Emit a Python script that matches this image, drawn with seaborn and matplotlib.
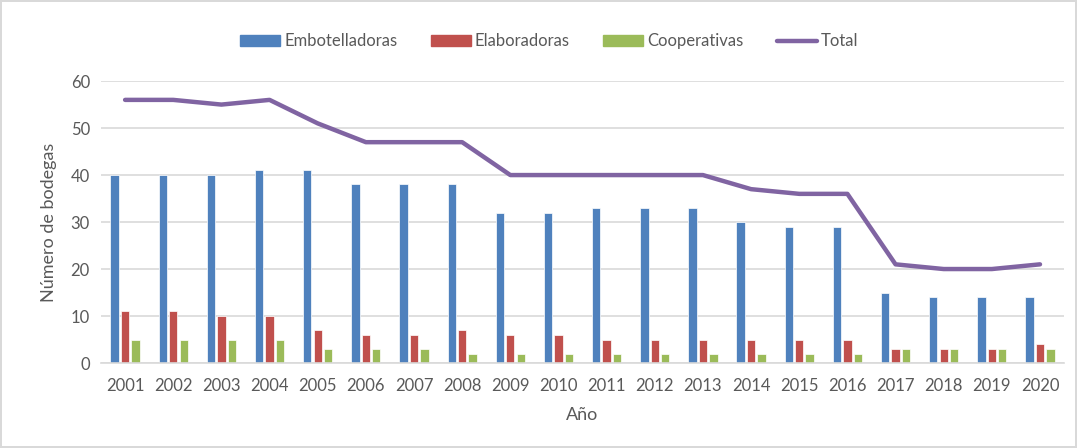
import pandas as pd
import numpy as np
import matplotlib.pyplot as plt
import seaborn as sns

# datos
years = [str(y) for y in range(2001, 2021)]
embotelladoras = [40, 40, 40, 41, 41, 38, 38, 38, 32, 32, 33, 33, 33, 30, 29, 29, 15, 14, 14, 14]
elaboradoras = [11, 11, 10, 10, 7, 6, 6, 7, 6, 6, 5, 5, 5, 5, 5, 5, 3, 3, 3, 4]
cooperativas = [5, 5, 5, 5, 3, 3, 3, 2, 2, 2, 2, 2, 2, 2, 2, 2, 3, 3, 3, 3]
total = [56, 56, 55, 56, 51, 47, 47, 47, 40, 40, 40, 40, 40, 37, 36, 36, 21, 20, 20, 21]

series_names = ['Embotelladoras', 'Elaboradoras', 'Cooperativas']
colors = ['#4F81BD', '#C0504D', '#9BBB59']
line_color = '#8064A2'
text_color = '#595959'

df = pd.DataFrame({
    'Año': years * 3,
    'Tipo': np.repeat(series_names, len(years)),
    'Valor': embotelladoras + elaboradoras + cooperativas,
})

sns.set_style('white')
plt.rcParams['font.family'] = ['Lato', 'DejaVu Sans']

fig = plt.figure(figsize=(10.77, 4.48), dpi=100)
fig.patch.set_edgecolor('#D9D9D9')
fig.patch.set_linewidth(1.5)
ax = fig.add_axes([0.0938, 0.1897, 0.8942, 0.6293])

sns.barplot(data=df, x='Año', y='Valor', hue='Tipo', hue_order=series_names,
            palette=colors, saturation=1, width=0.65, gap=0.2, ax=ax, legend=False,
            edgecolor='white', linewidth=0.5)
sns.lineplot(x=years, y=total, ax=ax, color=line_color, linewidth=3.2, sort=False)

ax.set_ylim(0, 60)
ax.set_yticks(range(0, 61, 10))
ax.set_xlim(-0.5, len(years) - 0.5)
ax.grid(axis='y', color='#D9D9D9', linewidth=1.2)
ax.set_axisbelow(True)
for s in ['top', 'right', 'left']:
    ax.spines[s].set_visible(False)
ax.spines['bottom'].set_color('#D9D9D9')
ax.spines['bottom'].set_linewidth(1.2)
ax.tick_params(axis='x', length=0, labelsize=12, colors=text_color, pad=11)
ax.tick_params(axis='y', length=0, labelsize=12, colors=text_color, pad=8)
ax.set_xlabel('Año', fontsize=13, color=text_color, labelpad=9)
ax.set_ylabel('Número de bodegas', fontsize=13, color=text_color, labelpad=10)

handles = [plt.Rectangle((0, 0), 1, 1, color=c) for c in colors]
handles.append(plt.Line2D([0], [0], color=line_color, linewidth=3.2))
fig.legend(handles, series_names + ['Total'], loc='center', bbox_to_anchor=(0.51, 0.908),
           ncol=4, frameon=False, fontsize=12, labelcolor=text_color,
           handlelength=2.4, handleheight=0.6, handletextpad=0.25, columnspacing=2.0)

fig.savefig('out.png', dpi=100)
